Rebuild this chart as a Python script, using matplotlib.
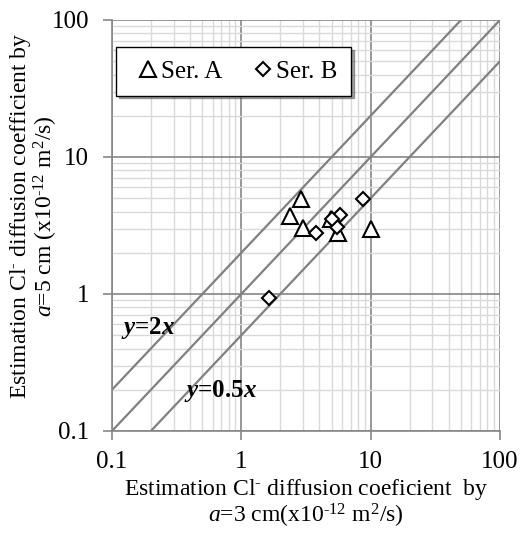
import matplotlib
matplotlib.use("Agg")
import matplotlib.pyplot as plt
from matplotlib.ticker import LogLocator, FixedLocator, FixedFormatter, NullFormatter
import numpy as np

plt.rcParams["font.family"] = ["Liberation Serif", "DejaVu Serif"]
plt.rcParams["mathtext.fontset"] = "custom"
plt.rcParams["mathtext.rm"] = "Liberation Serif"
plt.rcParams["mathtext.it"] = "Liberation Serif:italic"
plt.rcParams["mathtext.bf"] = "Liberation Serif:bold"
plt.rcParams["mathtext.bfit"] = "Liberation Serif:bold:italic"

# Series A: a=3 cm estimate vs a=5 cm estimate
ser_a_x = [2.9, 2.4, 3.0, 4.9, 5.6, 10.0]
ser_a_y = [4.9, 3.7, 3.05, 3.5, 2.8, 3.0]

# Series B
ser_b_x = [8.8, 5.8, 3.8, 5.5, 5.0, 1.65]
ser_b_y = [4.9, 3.8, 2.8, 3.1, 3.5, 0.94]

# Reference line slopes
ratios = [2.0, 1.0, 0.5]

tick_values = [0.1, 1, 10, 100]
tick_labels = ["0.1", "1", "10", "100"]

fig = plt.figure(figsize=(5.24, 5.33), dpi=100)
ax = fig.add_axes([0.2137, 0.1914, 0.7405, 0.7711])
ax.set_xscale("log")
ax.set_yscale("log")
ax.set_xlim(0.1, 100)
ax.set_ylim(0.1, 100)

# grid
ax.xaxis.set_minor_locator(LogLocator(base=10, subs=np.arange(2, 10)))
ax.yaxis.set_minor_locator(LogLocator(base=10, subs=np.arange(2, 10)))
ax.xaxis.set_minor_formatter(NullFormatter())
ax.yaxis.set_minor_formatter(NullFormatter())
ax.xaxis.set_major_locator(FixedLocator(tick_values))
ax.yaxis.set_major_locator(FixedLocator(tick_values))
ax.xaxis.set_major_formatter(FixedFormatter(tick_labels))
ax.yaxis.set_major_formatter(FixedFormatter(tick_labels))
ax.grid(which="minor", color="#d9d9d9", linewidth=1.0)
ax.grid(which="major", color="#868686", linewidth=1.2)
ax.set_axisbelow(True)
ax.tick_params(which="minor", length=0)
ax.tick_params(which="major", length=6.5, width=1.2, color="#868686",
               labelsize=18)
ax.tick_params(axis="x", pad=8)
ax.tick_params(axis="y", pad=10)
for side in ["top", "right"]:
    ax.spines[side].set_visible(False)
for side in ["left", "bottom"]:
    ax.spines[side].set_color("#868686")
    ax.spines[side].set_linewidth(1.2)

xs = np.array([0.01, 1000])
for r in ratios:
    ax.plot(xs, r * xs, color="#808080", linewidth=1.6, zorder=2)

ax.plot(ser_a_x, ser_a_y, linestyle="none", marker="^", markersize=12,
        markerfacecolor="white", markeredgecolor="black", markeredgewidth=1.5,
        label="Ser. A", zorder=3)
ax.plot(ser_b_x, ser_b_y, linestyle="none", marker="D", markersize=7.5,
        markerfacecolor="white", markeredgecolor="black", markeredgewidth=1.5,
        label="Ser. B", zorder=3)

ax.text(0.118, 0.56, r"$\mathbfit{y}$=2$\mathbfit{x}$", fontsize=18,
        fontweight="bold", va="center", ha="left")
ax.text(0.36, 0.196, r"$\mathbfit{y}$=0.5$\mathbfit{x}$", fontsize=18,
        fontweight="bold", va="center", ha="left")

leg = ax.legend(loc="upper left", bbox_to_anchor=(0.01, 0.934), ncol=2,
                fontsize=18, frameon=True, shadow=True, fancybox=False,
                handlelength=1.5, handletextpad=-0.2, columnspacing=0.85,
                borderpad=0.52, borderaxespad=0)
leg.get_frame().set_edgecolor("black")
leg.get_frame().set_linewidth(1.0)

ax.set_xlabel("Estimation Cl$^{\\text{-}}$ diffusion coeficient  by\n"
              r"$a$=3 cm(x10$^{\text{-12}}$ m$^{2}$/s)", fontsize=17,
              linespacing=1.0)
ax.xaxis.set_label_coords(0.5, -0.112)
ax.xaxis.label.set_va("top")
ax.set_ylabel("Estimation Cl$^{\\text{-}}$ diffusion coefficient by\n"
              r"$a$=5 cm (x10$^{\text{-12}}$ m$^{2}$/s)", fontsize=17,
              linespacing=0.95)
ax.yaxis.set_label_coords(-0.134, 0.523)

fig.savefig("out.png", dpi=100)
